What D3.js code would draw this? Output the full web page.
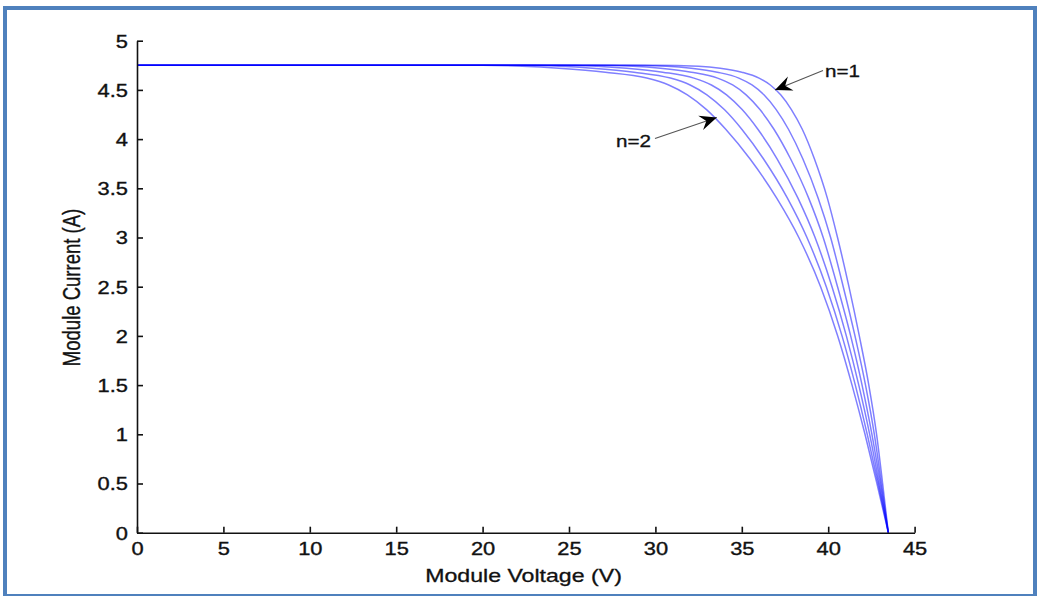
<!DOCTYPE html>
<html>
<head>
<meta charset="utf-8">
<script src="https://cdn.jsdelivr.net/npm/d3@7"></script>
<style>
  html, body { margin: 0; padding: 0; background: #fff; }
  svg { display: block; }
  text { font-family: "Liberation Sans", Arial, sans-serif; fill: #111; }
</style>
</head>
<body>
<svg id="chart" width="1041" height="596"></svg>
<script>
// ---- data: voltage of each curve at these current levels ----
const currentLevels = [4.75, 4.75, 4.74, 4.72, 4.68, 4.62, 4.55, 4.45, 4.30, 4.10, 3.80, 3.40, 3.00, 2.50, 2.00, 1.50, 1.00, 0.50, 0];
const voltN10 = [0, 30.0, 32.5, 33.75, 35.0, 36.0, 36.65, 37.25, 37.87, 38.5, 39.2, 39.95, 40.54, 41.2, 41.8, 42.35, 42.80, 43.15, 43.48];
const voltN12 = [0, 28.2, 30.66, 32.07, 33.58, 34.83, 35.59, 36.28, 36.99, 37.70, 38.53, 39.42, 40.14, 40.87, 41.55, 42.16, 42.67, 43.08, 43.48];
const voltN14 = [0, 26.3, 28.73, 30.29, 32.08, 33.60, 34.47, 35.25, 36.05, 36.86, 37.82, 38.87, 39.71, 40.54, 41.30, 41.96, 42.53, 43.02, 43.48];
const voltN16 = [0, 24.2, 26.58, 28.33, 30.42, 32.23, 33.24, 34.12, 35.02, 35.93, 37.04, 38.25, 39.24, 40.22, 41.05, 41.77, 42.40, 42.95, 43.48];
const voltN18 = [0, 22.1, 24.44, 26.36, 28.76, 30.87, 32.01, 32.98, 33.99, 35.00, 36.25, 37.64, 38.77, 39.89, 40.80, 41.57, 42.26, 42.89, 43.48];
const voltN20 = [0, 20.0, 22.3, 24.4, 27.1, 29.5, 30.77, 31.85, 32.96, 34.07, 35.47, 37.02, 38.30, 39.56, 40.55, 41.38, 42.13, 42.82, 43.48];
const seriesNames = ["n=1.0", "n=1.2", "n=1.4", "n=1.6", "n=1.8", "n=2.0"];
const seriesVolts = [voltN10, voltN12, voltN14, voltN16, voltN18, voltN20];
const xTicks = [0, 5, 10, 15, 20, 25, 30, 35, 40, 45];
const yTicks = [0, 0.5, 1, 1.5, 2, 2.5, 3, 3.5, 4, 4.5, 5];
const xTitle = "Module Voltage (V)";
const yTitle = "Module Current (A)";
const annotations = [
  { label: "n=1", tx: 825, ty: 77, x0: 823, y0: 70.5, v: 36.92, i: 4.50 },
  { label: "n=2", tx: 616, ty: 147, x0: 655, y0: 138.5, v: 33.55, i: 4.22 }
];

// ---- layout ----
const svg = d3.select("#chart");
const SX = 1.25; // horizontal stretch of the text in the picture
const x = d3.scaleLinear().domain([0, 45]).range([137, 914.6]);
const y = d3.scaleLinear().domain([0, 5]).range([532.7, 40.7]);

svg.append("rect").attr("x", 0).attr("y", 0).attr("width", 1041).attr("height", 596).attr("fill", "#fff");
svg.append("rect")
  .attr("x", 5).attr("y", 8).attr("width", 1030).attr("height", 588)
  .attr("fill", "none").attr("stroke", "#4f81bd").attr("stroke-width", 4);

// curves
const line = d3.line()
  .x(d => x(d[0])).y(d => y(d[1]))
  .curve(d3.curveMonotoneX);
const curveG = svg.append("g");
seriesVolts.forEach((vs, k) => {
  const pts = vs.map((v, j) => [v, currentLevels[j]]);
  curveG.append("path")
    .datum(pts)
    .attr("d", line)
    .attr("fill", "none")
    .attr("stroke", "#0000ff")
    .attr("stroke-opacity", 0.5)
    .attr("stroke-width", 1.5)
    .attr("data-name", seriesNames[k]);
});

// axes
const xAxis = d3.axisBottom(x).tickValues(xTicks).tickFormat(d3.format("d"))
  .tickSizeInner(-6).tickSizeOuter(0).tickPadding(0);
const yAxis = d3.axisLeft(y).tickValues(yTicks).tickFormat(d => String(d))
  .tickSizeInner(-6).tickSizeOuter(0).tickPadding(0);

const gx = svg.append("g").attr("transform", `translate(0,${y(0)})`).call(xAxis);
const gy = svg.append("g").attr("transform", `translate(${x(0)},0)`).call(yAxis);

[gx, gy].forEach(g => {
  g.select(".domain").attr("stroke", "#111").attr("stroke-width", 1.6);
  g.selectAll(".tick line").attr("stroke", "#111").attr("stroke-width", 1.6);
  g.selectAll(".tick text")
    .attr("font-family", "Liberation Sans, Arial, sans-serif")
    .attr("font-size", 17.5)
    .attr("fill", "#111")
    .attr("stroke", "#111").attr("stroke-width", 0.35);
});
gx.selectAll(".tick text")
  .attr("x", null).attr("y", null).attr("dy", "0.71em")
  .attr("transform", `translate(0,10) scale(${SX},1)`);
gy.selectAll(".tick text")
  .attr("x", null).attr("dy", "0.36em")
  .attr("transform", `translate(-9,0) scale(${SX},1)`);

// axis titles
svg.append("text")
  .attr("transform", `translate(523.5,582) scale(${SX},1)`)
  .attr("text-anchor", "middle")
  .attr("font-size", 18.5)
  .attr("stroke", "#111").attr("stroke-width", 0.3)
  .text(xTitle);
svg.append("text")
  .attr("transform", `translate(80,287.5) scale(${SX},1) rotate(-90)`)
  .attr("text-anchor", "middle")
  .attr("font-size", 18.5)
  .attr("stroke", "#111").attr("stroke-width", 0.3)
  .text(yTitle);

// annotations with arrows
function arrowHead(g, x0, y0, x1, y1) {
  const ang = Math.atan2(y1 - y0, x1 - x0);
  const L = 17, W = 7.5, back = 11;
  const ca = Math.cos(ang), sa = Math.sin(ang);
  const p = (a, b) => [x1 - a * ca + b * -sa, y1 - a * sa + b * ca];
  const pts = [p(0, 0), p(L, W), p(back, 0), p(L, -W)];
  g.append("path")
    .attr("d", "M" + pts.map(q => q.join(",")).join("L") + "Z")
    .attr("fill", "#000");
}
annotations.forEach(a => {
  const g = svg.append("g");
  const x1 = x(a.v), y1 = y(a.i);
  g.append("line")
    .attr("x1", a.x0).attr("y1", a.y0).attr("x2", x1).attr("y2", y1)
    .attr("stroke", "#555").attr("stroke-width", 1.1);
  arrowHead(g, a.x0, a.y0, x1, y1);
  g.append("text")
    .attr("transform", `translate(${a.tx},${a.ty}) scale(${SX},1)`)
    .attr("font-size", 16.5)
    .attr("stroke", "#111").attr("stroke-width", 0.3)
    .text(a.label);
});
</script>
</body>
</html>
